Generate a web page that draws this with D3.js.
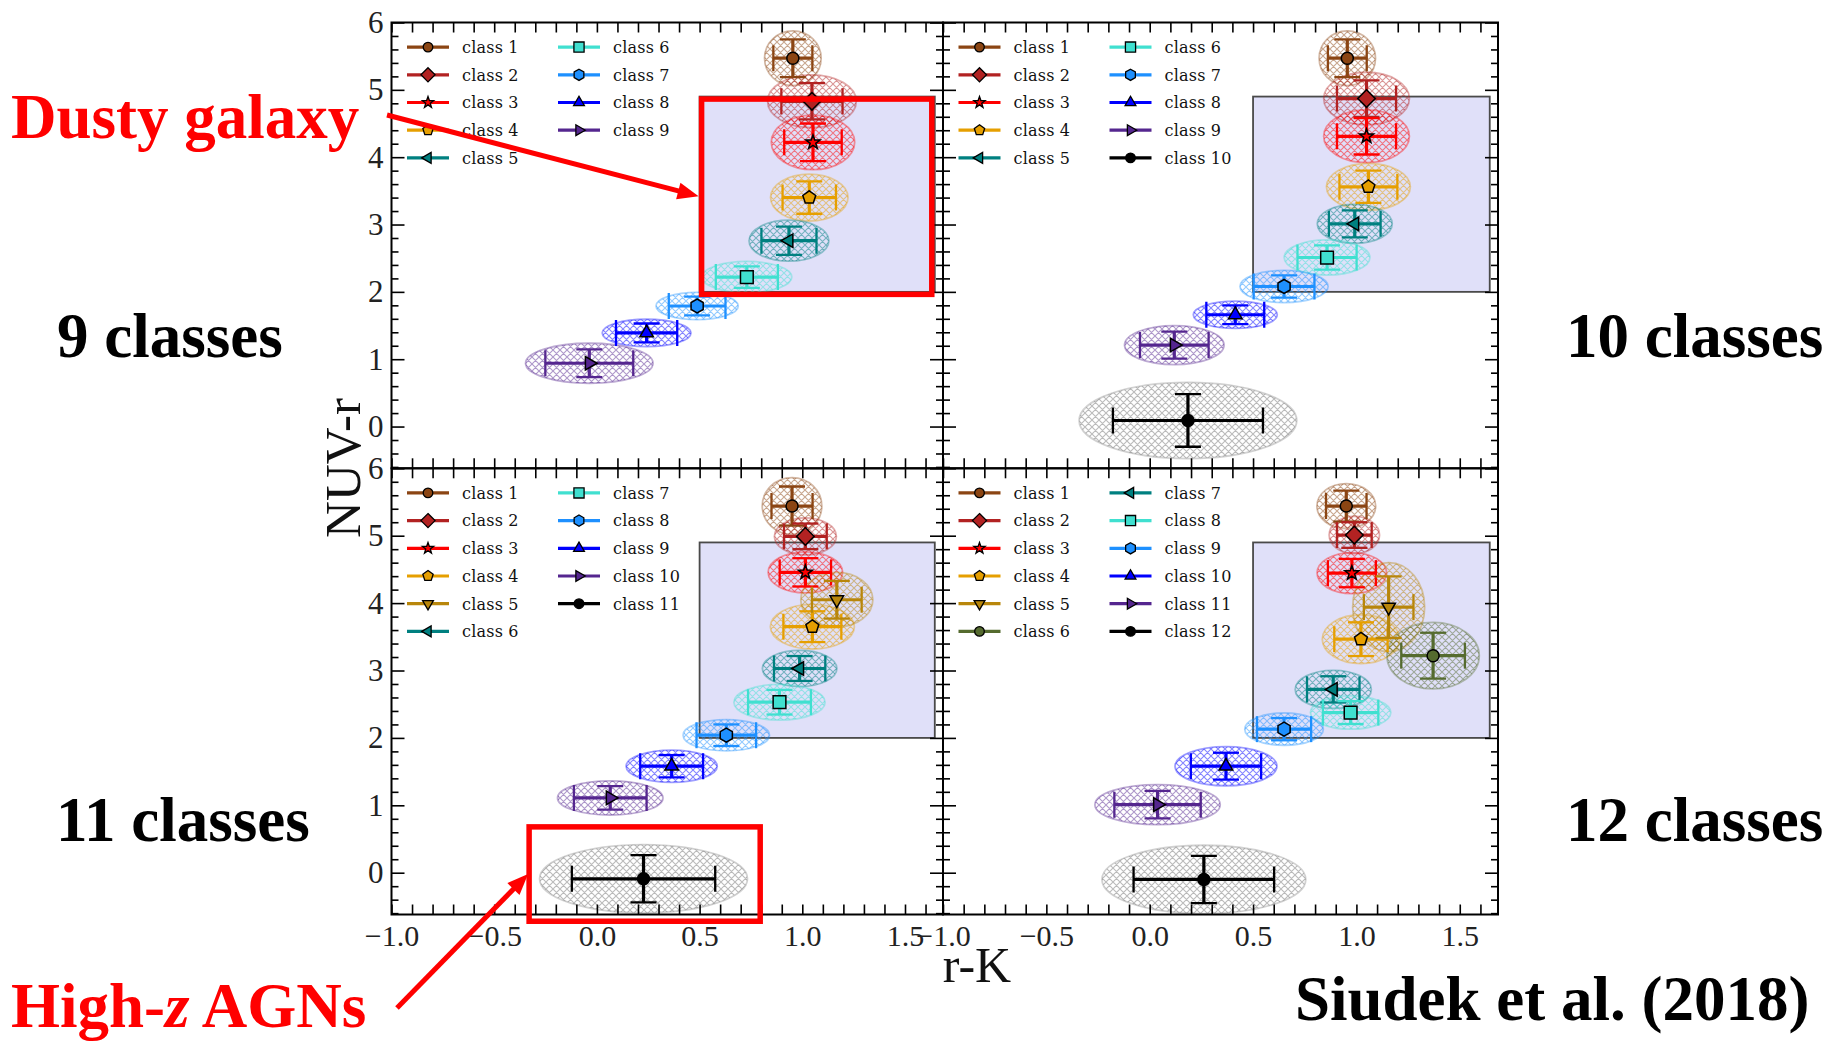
<!DOCTYPE html>
<html>
<head>
<meta charset="utf-8">
<script src="https://cdn.jsdelivr.net/npm/d3@7"></script>
<style>
  html, body { margin: 0; padding: 0; background: #fff; }
  svg { display: block; }
</style>
</head>
<body>
<svg id="fig" width="1833" height="1041"></svg>
<script>
// ---------------------------------------------------------------
// Class centres in the (r-K, NUV-r) plane with their 1-sigma spreads,
// for the 9-, 10-, 11- and 12-class solutions.
// ---------------------------------------------------------------
const rk9     = [0.954, 1.047, 1.052, 1.034, 0.935, 0.730, 0.488, 0.242, -0.037];
const nuv9    = [5.47, 4.83, 4.22, 3.40, 2.76, 2.22, 1.79, 1.39, 0.94];
const rkErr9  = [0.095, 0.149, 0.140, 0.130, 0.134, 0.151, 0.138, 0.149, 0.214];
const nuvErr9 = [0.28, 0.27, 0.28, 0.24, 0.21, 0.16, 0.14, 0.14, 0.205];

const rk10     = [0.956, 1.049, 1.049, 1.058, 0.992, 0.858, 0.650, 0.414, 0.119, 0.185];
const nuv10    = [5.47, 4.87, 4.31, 3.56, 3.01, 2.51, 2.08, 1.66, 1.21, 0.09];
const rkErr10  = [0.094, 0.143, 0.143, 0.140, 0.125, 0.143, 0.147, 0.140, 0.166, 0.363];
const nuvErr10 = [0.28, 0.27, 0.27, 0.24, 0.20, 0.18, 0.165, 0.14, 0.20, 0.39];

const rk11     = [0.950, 1.015, 1.015, 1.049, 1.168, 0.987, 0.889, 0.630, 0.364, 0.065, 0.227];
const nuv11    = [5.44, 4.99, 4.456, 3.65, 4.05, 3.03, 2.53, 2.04, 1.58, 1.11, -0.09];
const rkErr11  = [0.100, 0.104, 0.125, 0.141, 0.121, 0.125, 0.153, 0.145, 0.153, 0.177, 0.349];
const nuvErr11 = [0.29, 0.19, 0.21, 0.228, 0.28, 0.185, 0.183, 0.16, 0.165, 0.175, 0.35];

const rk12     = [0.951, 0.990, 0.978, 1.022, 1.156, 1.371, 0.888, 0.972, 0.650, 0.369, 0.038, 0.262];
const nuv12    = [5.44, 5.01, 4.445, 3.465, 3.94, 3.22, 2.72, 2.376, 2.13, 1.58, 1.01, -0.10];
const rkErr12  = [0.098, 0.084, 0.116, 0.129, 0.120, 0.154, 0.127, 0.134, 0.131, 0.170, 0.209, 0.340];
const nuvErr12 = [0.23, 0.19, 0.21, 0.25, 0.456, 0.34, 0.195, 0.17, 0.165, 0.20, 0.205, 0.35];

// selection region (dusty star-forming candidates) and the high-z AGN box
const selRk  = [0.5, 1.645];
const selNuv = [2.0, 4.9];
const agnRk  = [-0.33, 0.795];
const agnNuv = [-0.72, 0.68];

// axis ticks
const xTickLabels = [-1.0, -0.5, 0.0, 0.5, 1.0, 1.5];
const yTickLabels = [0, 1, 2, 3, 4, 5, 6];

// ---------------------------------------------------------------
// Styles
// ---------------------------------------------------------------
const C = {
  brown: "#8B4513", firebrick: "#B22222", red: "#FF0000", orange: "#E69F00",
  goldenrod: "#B8860B", olive: "#556B2F", teal: "#008080", turquoise: "#40E0D0",
  dodger: "#1E90FF", blue: "#0000FF", purple: "#55268F", black: "#000000"
};
const colors9  = [C.brown, C.firebrick, C.red, C.orange, C.teal, C.turquoise, C.dodger, C.blue, C.purple];
const colors10 = colors9.concat([C.black]);
const colors11 = [C.brown, C.firebrick, C.red, C.orange, C.goldenrod, C.teal, C.turquoise, C.dodger, C.blue, C.purple, C.black];
const colors12 = [C.brown, C.firebrick, C.red, C.orange, C.goldenrod, C.olive, C.teal, C.turquoise, C.dodger, C.blue, C.purple, C.black];

const markers9  = ["o", "D", "*", "p", "<", "s", "h", "^", ">"];
const markers10 = markers9.concat(["o"]);
const markers11 = ["o", "D", "*", "p", "v", "<", "s", "h", "^", ">", "o"];
const markers12 = ["o", "D", "*", "p", "v", "o", "<", "s", "h", "^", ">", "o"];

// ---------------------------------------------------------------
// Marker shapes as d3 symbol types (size = radius squared)
// ---------------------------------------------------------------
function polygonType(n, rot) {
  return {
    draw(ctx, size) {
      const r = Math.sqrt(size);
      for (let i = 0; i < n; i++) {
        const a = rot + i * 2 * Math.PI / n;
        const px = r * Math.sin(a), py = -r * Math.cos(a);
        if (i === 0) ctx.moveTo(px, py); else ctx.lineTo(px, py);
      }
      ctx.closePath();
    }
  };
}
const circleType = {
  draw(ctx, size) { const r = Math.sqrt(size); ctx.moveTo(r, 0); ctx.arc(0, 0, r, 0, 2 * Math.PI); }
};
const starType = {
  draw(ctx, size) {
    const r = Math.sqrt(size), ri = r * 0.4;
    for (let i = 0; i < 10; i++) {
      const rr = i % 2 ? ri : r, a = i * Math.PI / 5;
      const px = rr * Math.sin(a), py = -rr * Math.cos(a);
      if (i === 0) ctx.moveTo(px, py); else ctx.lineTo(px, py);
    }
    ctx.closePath();
  }
};
const shapeTypes = {
  "o": [circleType, 6.0],
  "D": [polygonType(4, 0), 8.8],
  "*": [starType, 7.4],
  "p": [polygonType(5, 0), 6.8],
  "<": [polygonType(3, -Math.PI / 2), 7.8],
  ">": [polygonType(3, Math.PI / 2), 7.8],
  "^": [polygonType(3, 0), 7.8],
  "v": [polygonType(3, Math.PI), 7.8],
  "s": [polygonType(4, Math.PI / 4), 9.0],
  "h": [polygonType(6, 0), 7.0]
};
function markerPath(m, scale) {
  const [type, r] = shapeTypes[m];
  const rr = r * (scale || 1);
  return d3.symbol().type(type).size(rr * rr)();
}

// ---------------------------------------------------------------
// Figure
// ---------------------------------------------------------------
const svg = d3.select("#fig");
const defs = svg.append("defs");
const hatchIds = new Map();
function hatchFor(color) {
  if (hatchIds.has(color)) return hatchIds.get(color);
  const id = "hatch" + hatchIds.size;
  const s = 7;
  const p = defs.append("pattern").attr("id", id)
    .attr("patternUnits", "userSpaceOnUse").attr("width", s).attr("height", s);
  p.append("path").attr("d", `M0,0L${s},${s}M${s},0L0,${s}M-1,${s - 1}L1,${s + 1}M${s - 1},-1L${s + 1},1`)
    .attr("stroke", color).attr("stroke-opacity", 0.48).attr("stroke-width", 1.1);
  hatchIds.set(color, id);
  return id;
}

const xDomain = [-1, 1.685];
const yDomain = [-0.62, 6];
const ELLIPSE_SCALE = 1.45;

const panels = [
  { rk: rk9,  nuv: nuv9,  rkErr: rkErr9,  nuvErr: nuvErr9,  colors: colors9,  markers: markers9,
    left: 391.5, right: 943, top: 22.5, bottom: 468.3, yLab: true, xLab: false },
  { rk: rk10, nuv: nuv10, rkErr: rkErr10, nuvErr: nuvErr10, colors: colors10, markers: markers10,
    left: 943, right: 1498, top: 22.5, bottom: 468.3, yLab: false, xLab: false },
  { rk: rk11, nuv: nuv11, rkErr: rkErr11, nuvErr: nuvErr11, colors: colors11, markers: markers11,
    left: 391.5, right: 943, top: 468.3, bottom: 914.5, yLab: true, xLab: true },
  { rk: rk12, nuv: nuv12, rkErr: rkErr12, nuvErr: nuvErr12, colors: colors12, markers: markers12,
    left: 943, right: 1498, top: 468.3, bottom: 914.5, yLab: false, xLab: true }
];

const tickFont = "'Liberation Serif', 'Times New Roman', serif";
const minorX = d3.range(-10, 17).map(i => i / 10);
const majorY = d3.range(0, 7);
const minorY = d3.range(-3, 31).filter(i => i % 5 !== 0).map(i => i / 5);

panels.forEach((P, pi) => {
  P.x = d3.scaleLinear().domain(xDomain).range([P.left, P.right]);
  P.y = d3.scaleLinear().domain(yDomain).range([P.bottom, P.top]);
  const x = P.x, y = P.y;
  const g = svg.append("g").attr("class", "panel");

  const clipId = "clip" + pi;
  defs.append("clipPath").attr("id", clipId).append("rect")
    .attr("x", P.left).attr("y", P.top).attr("width", P.right - P.left).attr("height", P.bottom - P.top);
  const plot = g.append("g").attr("clip-path", `url(#${clipId})`);

  // selection region
  plot.append("rect")
    .attr("x", x(selRk[0])).attr("y", y(selNuv[1]))
    .attr("width", x(selRk[1]) - x(selRk[0])).attr("height", y(selNuv[0]) - y(selNuv[1]))
    .attr("fill", "#E0E0F9").attr("stroke", "#4a4a4a").attr("stroke-width", 1.8);

  const idx = d3.range(P.rk.length);

  // hatched spread ellipses
  plot.selectAll("ellipse.spread").data(idx).join("ellipse")
    .attr("class", "spread")
    .attr("cx", i => x(P.rk[i])).attr("cy", i => y(P.nuv[i]))
    .attr("rx", i => x(P.rk[i] + ELLIPSE_SCALE * P.rkErr[i]) - x(P.rk[i]))
    .attr("ry", i => y(P.nuv[i]) - y(P.nuv[i] + ELLIPSE_SCALE * P.nuvErr[i]))
    .attr("fill", i => `url(#${hatchFor(P.colors[i] === C.black ? "#6e6e6e" : P.colors[i])})`)
    .attr("stroke", i => P.colors[i] === C.black ? "#8a8a8a" : P.colors[i])
    .attr("stroke-opacity", 0.38).attr("stroke-width", 1.8);

  // error bars
  const cap = 13;
  const eb = plot.selectAll("g.eb").data(idx).join("g").attr("class", "eb")
    .attr("stroke", i => P.colors[i]).attr("fill", "none");
  eb.append("line").attr("stroke-width", 3.2)
    .attr("x1", i => x(P.rk[i] - P.rkErr[i])).attr("x2", i => x(P.rk[i] + P.rkErr[i]))
    .attr("y1", i => y(P.nuv[i])).attr("y2", i => y(P.nuv[i]));
  eb.append("line").attr("stroke-width", 3.2)
    .attr("x1", i => x(P.rk[i])).attr("x2", i => x(P.rk[i]))
    .attr("y1", i => y(P.nuv[i] - P.nuvErr[i])).attr("y2", i => y(P.nuv[i] + P.nuvErr[i]));
  [-1, 1].forEach(s => {
    eb.append("line").attr("stroke-width", 2.3)
      .attr("x1", i => x(P.rk[i] + s * P.rkErr[i])).attr("x2", i => x(P.rk[i] + s * P.rkErr[i]))
      .attr("y1", i => y(P.nuv[i]) - cap).attr("y2", i => y(P.nuv[i]) + cap);
    eb.append("line").attr("stroke-width", 2.3)
      .attr("x1", i => x(P.rk[i]) - cap).attr("x2", i => x(P.rk[i]) + cap)
      .attr("y1", i => y(P.nuv[i] + s * P.nuvErr[i])).attr("y2", i => y(P.nuv[i] + s * P.nuvErr[i]));
  });

  // class markers
  plot.selectAll("path.mk").data(idx).join("path").attr("class", "mk")
    .attr("transform", i => `translate(${x(P.rk[i])},${y(P.nuv[i])})`)
    .attr("d", i => markerPath(P.markers[i]))
    .attr("fill", i => P.colors[i]).attr("stroke", "#000").attr("stroke-width", 1.5);

  // inward ticks on all four sides
  const tickStyle = sel => {
    sel.select(".domain").remove();
    sel.selectAll(".tick line").attr("stroke", "#000").attr("stroke-width", 1.6);
  };
  g.append("g").attr("transform", `translate(0,${P.bottom})`)
    .call(d3.axisBottom(x).tickValues(minorX).tickSize(-10).tickFormat("")).call(tickStyle);
  g.append("g").attr("transform", `translate(0,${P.top})`)
    .call(d3.axisTop(x).tickValues(minorX).tickSize(-10).tickFormat("")).call(tickStyle);
  g.append("g").attr("transform", `translate(${P.left},0)`)
    .call(d3.axisLeft(y).tickValues(majorY).tickSize(-13).tickFormat("")).call(tickStyle);
  g.append("g").attr("transform", `translate(${P.left},0)`)
    .call(d3.axisLeft(y).tickValues(minorY).tickSize(-7).tickFormat("")).call(tickStyle);
  g.append("g").attr("transform", `translate(${P.right},0)`)
    .call(d3.axisRight(y).tickValues(majorY).tickSize(-13).tickFormat("")).call(tickStyle);
  g.append("g").attr("transform", `translate(${P.right},0)`)
    .call(d3.axisRight(y).tickValues(minorY).tickSize(-7).tickFormat("")).call(tickStyle);

  // frame
  g.append("rect").attr("x", P.left).attr("y", P.top)
    .attr("width", P.right - P.left).attr("height", P.bottom - P.top)
    .attr("fill", "none").attr("stroke", "#000").attr("stroke-width", 2);

  // tick labels
  if (P.yLab) {
    const ay = g.append("g").attr("transform", `translate(${P.left},0)`)
      .call(d3.axisLeft(y).tickValues(yTickLabels).tickSize(0).tickPadding(8).tickFormat(d3.format("d")));
    ay.select(".domain").remove();
    ay.attr("font-family", tickFont).attr("font-size", 31);
    ay.selectAll("text").attr("fill", "#222");
  }
  if (P.xLab) {
    const ax = g.append("g").attr("transform", `translate(0,${P.bottom})`)
      .call(d3.axisBottom(x).tickValues(xTickLabels).tickSize(0).tickPadding(10).tickFormat(d3.format(".1f")));
    ax.select(".domain").remove();
    ax.attr("font-family", tickFont).attr("font-size", 30);
    ax.selectAll("text").attr("fill", "#222");
  }

  // legend (two columns)
  const n = P.rk.length, nCol1 = Math.ceil(n / 2);
  const leg = g.append("g").attr("class", "legend");
  idx.forEach(i => {
    const col = i < nCol1 ? 0 : 1, row = col ? i - nCol1 : i;
    const lx = P.left + (col ? 166.5 : 15.5);
    const ly = P.top + 24.6 + row * 27.7;
    leg.append("line").attr("x1", lx).attr("x2", lx + 42).attr("y1", ly).attr("y2", ly)
      .attr("stroke", P.colors[i]).attr("stroke-width", 3.2);
    leg.append("path").attr("transform", `translate(${lx + 21},${ly})`)
      .attr("d", markerPath(P.markers[i], 0.8))
      .attr("fill", P.colors[i]).attr("stroke", "#000").attr("stroke-width", 1.3);
    leg.append("text").attr("x", lx + 55).attr("y", ly + 5.8)
      .attr("font-family", "'DejaVu Serif', serif").attr("font-size", 16)
      .attr("letter-spacing", 0.2).attr("fill", "#111")
      .text(`class ${i + 1}`);
  });
});

// axis titles
svg.append("text").attr("transform", "translate(360,468) rotate(-90)")
  .attr("text-anchor", "middle").attr("font-family", tickFont).attr("font-size", 51)
  .attr("fill", "#111").text("NUV-r");
svg.append("text").attr("x", 977).attr("y", 982)
  .attr("text-anchor", "middle").attr("font-family", tickFont).attr("font-size", 50)
  .attr("fill", "#111").text("r-K");

// ---------------------------------------------------------------
// Annotations
// ---------------------------------------------------------------
const P9 = panels[0], P11 = panels[2];
const red = "#FF0000";
const ann = svg.append("g").attr("class", "annotations");

ann.append("rect")
  .attr("x", P9.x(selRk[0]) + 2).attr("y", P9.y(selNuv[1]) + 2.5)
  .attr("width", P9.x(selRk[1]) - P9.x(selRk[0]) - 5).attr("height", P9.y(selNuv[0]) - P9.y(selNuv[1]))
  .attr("fill", "none").attr("stroke", red).attr("stroke-width", 5.5);
ann.append("rect")
  .attr("x", P11.x(agnRk[0])).attr("y", P11.y(agnNuv[1]))
  .attr("width", P11.x(agnRk[1]) - P11.x(agnRk[0])).attr("height", P11.y(agnNuv[0]) - P11.y(agnNuv[1]))
  .attr("fill", "none").attr("stroke", red).attr("stroke-width", 5.5);

function arrow(x0, y0, x1, y1) {
  const dx = x1 - x0, dy = y1 - y0, L = Math.hypot(dx, dy);
  const ux = dx / L, uy = dy / L, hl = 21, hw = 8.5;
  const bx = x1 - ux * hl, by = y1 - uy * hl;
  ann.append("line").attr("x1", x0).attr("y1", y0).attr("x2", bx + ux * 2).attr("y2", by + uy * 2)
    .attr("stroke", red).attr("stroke-width", 5);
  ann.append("path")
    .attr("d", `M${x1},${y1}L${bx - uy * hw},${by + ux * hw}L${bx + uy * hw},${by - ux * hw}Z`)
    .attr("fill", red);
}
arrow(387, 115, P9.x(selRk[0]) - 1, P9.y(3.42));
arrow(397, 1008, P11.x(agnRk[0]) - 1, P11.y(-0.02));

const bigFont = "'Liberation Serif', 'Times New Roman', serif";
function bigText(x, y, color) {
  return ann.append("text").attr("x", x).attr("y", y)
    .attr("font-family", bigFont).attr("font-weight", "bold").attr("font-size", 63)
    .attr("fill", color);
}
bigText(11, 138, red).text("Dusty galaxy");
bigText(57, 357, "#000").text("9 classes");
bigText(1566, 357, "#000").text("10 classes");
bigText(56, 841, "#000").text("11 classes");
bigText(1566, 841, "#000").text("12 classes");
const hz = bigText(11, 1027, red);
hz.append("tspan").text("High-");
hz.append("tspan").attr("font-style", "italic").text("z");
hz.append("tspan").text(" AGNs");
bigText(1295, 1020, "#000").text("Siudek et al. (2018)");
</script>
</body>
</html>
